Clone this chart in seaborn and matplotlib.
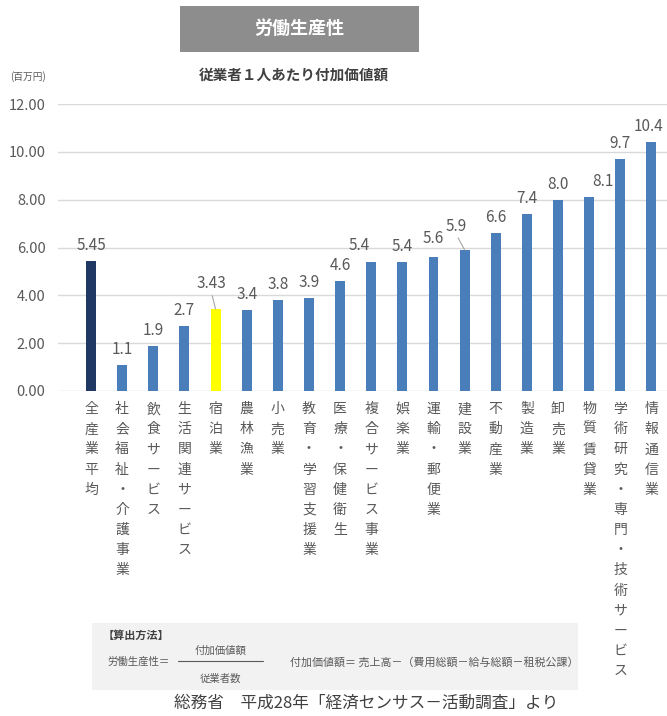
import matplotlib
matplotlib.use("Agg")
import matplotlib.pyplot as plt
import seaborn as sns
import pandas as pd
from matplotlib.patches import Rectangle
from matplotlib.lines import Line2D

categories = ["全産業平均", "社会福祉・介護事業", "飲食サービス", "生活関連サービス", "宿泊業",
              "農林漁業", "小売業", "教育・学習支援業", "医療・保健衛生", "複合サービス事業",
              "娯楽業", "運輸・郵便業", "建設業", "不動産業", "製造業", "卸売業",
              "物質賃貸業", "学術研究・専門・技術サービス", "情報通信業"]
values = [5.45, 1.1, 1.9, 2.7, 3.43, 3.4, 3.8, 3.9, 4.6, 5.4, 5.4, 5.6, 5.9, 6.6, 7.4, 8.0, 8.1, 9.7, 10.4]
value_labels = ["5.45", "1.1", "1.9", "2.7", "3.43", "3.4", "3.8", "3.9", "4.6", "5.4", "5.4",
                "5.6", "5.9", "6.6", "7.4", "8.0", "8.1", "9.7", "10.4"]
y_ticks = [0, 2, 4, 6, 8, 10, 12]

sns.set_theme(style="white")
plt.rcParams["font.family"] = ["Noto Sans CJK JP", "DejaVu Sans"]

NAVY = "#203864"
BLUE = "#4a7ebb"
YELLOW = "#ffff00"
GRAY_TXT = "#595959"

colors = [NAVY if i == 0 else (YELLOW if c == "宿泊業" else BLUE) for i, c in enumerate(categories)]

df = pd.DataFrame({"cat": categories, "val": values})

W, H = 667, 716
fig = plt.figure(figsize=(W / 100, H / 100), dpi=100)
ax = fig.add_axes([58 / W, 1 - 391 / H, (667 - 58) / W, (391 - 104) / H])

sns.barplot(data=df, x="cat", y="val", hue="cat", palette=colors, width=0.32,
            saturation=1, legend=False, ax=ax, edgecolor="none")

ax.set_ylim(0, 12)
ax.set_xlim(-1.06, 18.5)
ax.set_yticks(y_ticks)
ax.set_yticklabels([f"{t:.2f}" for t in y_ticks], color=GRAY_TXT, fontsize=10.5)
ax.yaxis.grid(True, color="#d9d9d9", linewidth=1)
ax.set_axisbelow(True)
for s in ax.spines.values():
    s.set_visible(False)
ax.tick_params(axis="y", length=0, pad=9)
ax.set_xlabel("")
ax.set_ylabel("")
ax.set_xticks(range(len(categories)))
ax.set_xticklabels(["\n".join(c) for c in categories], color=GRAY_TXT, fontsize=10,
                   va="top", linespacing=1.56)
ax.tick_params(axis="x", length=0, pad=8)

# value labels
offsets = {i: (0, 5) for i in range(len(categories))}
offsets[9] = (-9, 6)
offsets[11] = (0, 7)
offsets[16] = (10, 5)
offsets[18] = (-2, 5)
for i, (v, lab) in enumerate(zip(values, value_labels)):
    if lab == "3.43":
        ax.annotate(lab, xy=(i, v), xytext=(-3, 12), textcoords="offset points",
                    ha="center", va="bottom", color=GRAY_TXT, fontsize=11,
                    arrowprops=dict(arrowstyle="-", color="#a6a6a6", lw=0.8,
                                    shrinkA=0, shrinkB=0, relpos=(0.5, 0.0)))
    elif lab == "5.9":
        ax.annotate(lab, xy=(i, v), xytext=(-6, 11), textcoords="offset points",
                    ha="center", va="bottom", color=GRAY_TXT, fontsize=11,
                    arrowprops=dict(arrowstyle="-", color="#a6a6a6", lw=0.8,
                                    shrinkA=0, shrinkB=0, relpos=(0.5, 0.0)))
    else:
        dx, dy = offsets[i]
        ax.annotate(lab, xy=(i, v), xytext=(dx, dy), textcoords="offset points",
                    ha="center", va="bottom", color=GRAY_TXT, fontsize=11)

# title box
fig.patches.append(Rectangle((180 / W, 1 - 52 / H), 239 / W, 46 / H,
                             transform=fig.transFigure, facecolor="#8d8d8d",
                             edgecolor="none"))
fig.text(299 / W, 1 - 28 / H, "労働生産性", color="white", fontsize=13,
         fontweight="bold", ha="center", va="center")
fig.text(294 / W, 1 - 75 / H, "従業者１人あたり付加価値額", color="#404040", fontsize=10.5,
         fontweight="bold", ha="center", va="center")
fig.text(10 / W, 1 - 77 / H, "(百万円)", color=GRAY_TXT, fontsize=7, ha="left", va="center")

# formula box
fig.patches.append(Rectangle((92 / W, 1 - 690 / H), (578 - 92) / W, 67 / H,
                             transform=fig.transFigure, facecolor="#f2f2f2",
                             edgecolor="none"))
fig.text(103 / W, 1 - 635 / H, "【算出方法】", color="#404040", fontsize=8,
         fontweight="bold", ha="left", va="center")
fig.text(107 / W, 1 - 662 / H, "労働生産性＝", color=GRAY_TXT, fontsize=7.5,
         ha="left", va="center")
fig.text(221 / W, 1 - 651 / H, "付加価値額", color=GRAY_TXT, fontsize=7.5,
         ha="center", va="center")
fig.lines.append(Line2D([178 / W, 263 / W], [1 - 661 / H, 1 - 661 / H],
                        transform=fig.transFigure, color=GRAY_TXT, lw=0.8))
fig.text(220 / W, 1 - 679 / H, "従業者数", color=GRAY_TXT, fontsize=7.5,
         ha="center", va="center")
fig.text(290 / W, 1 - 662 / H, "付加価値額＝ 売上高－（費用総額－給与総額－租税公課）",
         color=GRAY_TXT, fontsize=7.9, ha="left", va="center")

fig.text(174 / W, 1 - 703 / H, "総務省　平成28年「経済センサス－活動調査」より",
         color="#404040", fontsize=12, ha="left", va="center")

fig.savefig("out.png", dpi=100)
